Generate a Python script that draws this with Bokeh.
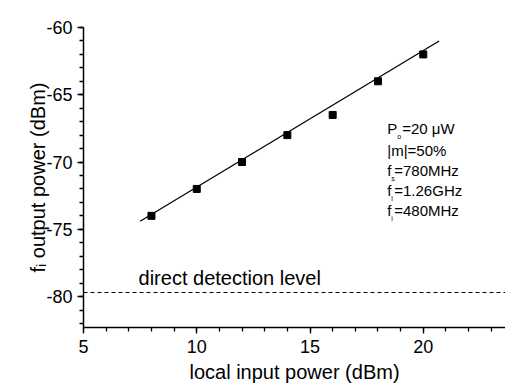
from bokeh.plotting import figure
from bokeh.models import Range1d, Label, SingleIntervalTicker, CustomJSTickFormatter
from bokeh.embed import file_html
from bokeh.resources import INLINE

# data
local_power = [8, 10, 12, 14, 16, 18, 20]
output_power = [-74.0, -72.0, -70.0, -68.0, -66.5, -64.0, -62.0]
fit_x = [7.5, 20.7]
fit_y = [-74.4, -61.0]
direct_level_x = [5, 23.7]
direct_level_y = [-79.7, -79.7]

FONT = "Liberation Sans"

p = figure(width=505, height=385, output_backend="svg", toolbar_location=None,
           x_range=Range1d(5, 23.63), y_range=Range1d(-82.3, -60),
           min_border_left=83, min_border_right=0, min_border_top=27, min_border_bottom=57)
p.outline_line_color = None
p.grid.visible = False
p.background_fill_color = "white"
p.border_fill_color = "white"

p.xaxis.ticker = SingleIntervalTicker(interval=5, num_minor_ticks=5)
p.yaxis.ticker = SingleIntervalTicker(interval=5, num_minor_ticks=5)
p.xaxis.formatter = CustomJSTickFormatter(code="return tick.toString();")
p.yaxis.formatter = CustomJSTickFormatter(code="return tick.toString();")
for ax in (p.xaxis, p.yaxis):
    ax.axis_line_color = "black"
    ax.axis_line_width = 1.5
    ax.major_tick_line_color = "black"
    ax.minor_tick_line_color = "black"
    ax.major_tick_line_width = 1.3
    ax.minor_tick_line_width = 1.3
    ax.major_tick_out = 6
    ax.major_tick_in = 0
    ax.minor_tick_out = 4
    ax.minor_tick_in = 0
    ax.major_label_text_font = FONT
    ax.major_label_text_font_size = "18px"
    ax.major_label_text_color = "black"
    ax.axis_label_text_font = FONT
    ax.axis_label_text_font_size = "20px"
    ax.axis_label_text_font_style = "normal"
    ax.axis_label_text_color = "black"

p.xaxis.axis_label = "local input power (dBm)"
p.yaxis.axis_label = "fᵢ output power (dBm)"
p.xaxis.major_label_standoff = 6
p.xaxis.axis_label_standoff = 5
p.yaxis.major_label_standoff = 5
p.yaxis.axis_label_standoff = -6

p.line(direct_level_x, direct_level_y, line_color="black", line_width=1, line_dash="4 3")
p.line(fit_x, fit_y, line_color="black", line_width=1.3)
p.scatter(local_power, output_power, marker="square", size=7, color="black")

p.add_layout(Label(x=7.43, y=-78.63, text="direct detection level", text_font=FONT,
                   text_font_size="20px", text_baseline="alphabetic", text_color="black"))

ann_x = 18.41
lines = [
    (-67.54, "P", "o", "=20 μW"),
    (-69.16, "|m|=50%", "", ""),
    (-70.64, "f", "s", "=780MHz"),
    (-72.12, "f", "l", "=1.26GHz"),
    (-73.6, "f", "i", "=480MHz"),
]
for yv, main, sub, rest in lines:
    p.add_layout(Label(x=ann_x, y=yv, text=main, text_font=FONT, text_font_size="15px",
                       text_baseline="middle", text_color="black"))
    if sub:
        if main == "P":
            sub_off, rest_off = 10, 15
        else:
            sub_off, rest_off = 4, 7
        p.add_layout(Label(x=ann_x, y=yv, x_offset=sub_off, y_offset=-8, text=sub, text_font=FONT,
                           text_font_size="7px", text_baseline="middle", text_color="black"))
        p.add_layout(Label(x=ann_x, y=yv, x_offset=rest_off, text=rest, text_font=FONT,
                           text_font_size="15px", text_baseline="middle", text_color="black"))

open("out.html", "w").write(file_html(p, INLINE))
